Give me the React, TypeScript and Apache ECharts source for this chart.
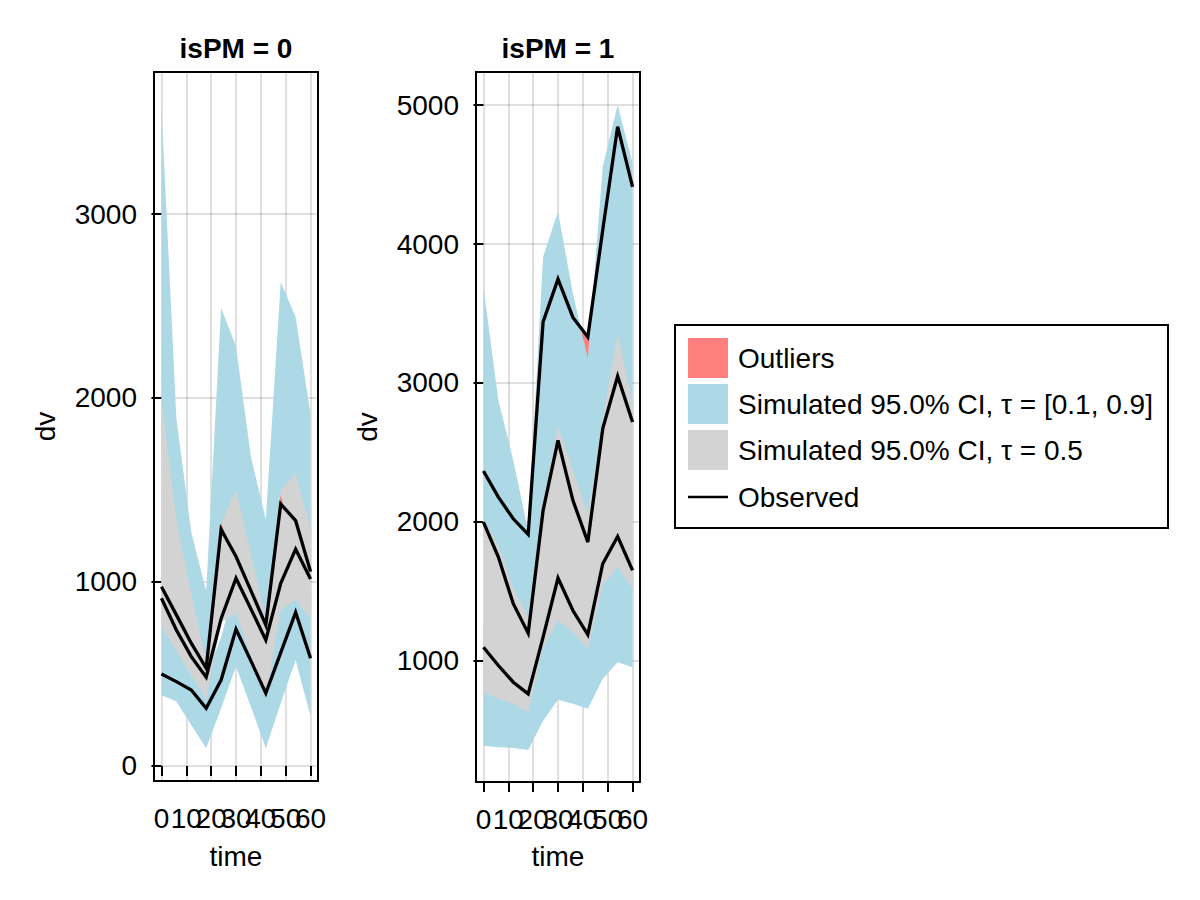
import React, { useEffect, useRef } from "react";
import * as echarts from "echarts";

// ---------------- data ----------------
const times = [0, 6, 12, 18, 24, 30, 36, 42, 48, 54, 60];
const xTickValues = [0, 10, 20, 30, 40, 50, 60];
const panelTitles = ["isPM = 0", "isPM = 1"];
const yTicksPM0 = [0, 1000, 2000, 3000];
const yTicksPM1 = [1000, 2000, 3000, 4000, 5000];

// isPM = 0 : simulated 95% CI of the 0.9 / 0.5 / 0.1 quantiles, observed quantiles
const pm0Ci90Lo = [900, 700, 560, 470, 1320, 1100, 900, 700, 1470, 1150, 1000];
const pm0Ci90Hi = [3580, 1890, 1270, 950, 2490, 2280, 1680, 1340, 2630, 2440, 1910];
const pm0Ci50Lo = [757, 625, 493, 359, 780, 830, 600, 359, 848, 902, 800];
const pm0Ci50Hi = [2000, 1330, 940, 560, 1320, 1500, 1150, 790, 1500, 1590, 1290];
const pm0Ci10Lo = [386, 350, 223, 96, 313, 540, 322, 96, 341, 576, 268];
const pm0Ci10Hi = [900, 760, 620, 480, 700, 1000, 750, 560, 980, 1050, 950];
const pm0Obs90 = [974, 821, 667, 531, 1286, 1138, 953, 766, 1424, 1333, 1056];
const pm0Obs50 = [911, 739, 594, 482, 800, 1020, 853, 685, 993, 1178, 1016];
const pm0Obs10 = [500, 458, 413, 313, 467, 743, 571, 395, 616, 835, 585];

// isPM = 1
const pm1Ci90Lo = [1900, 1700, 1400, 1250, 2050, 2550, 2250, 1950, 2600, 3200, 2750];
const pm1Ci90Hi = [3691, 2875, 2442, 1930, 3908, 4232, 3644, 3175, 4557, 5002, 4581];
const pm1Ci50Lo = [771, 724, 688, 628, 1096, 1288, 1204, 1084, 1541, 1673, 1520];
const pm1Ci50Hi = [2010, 1830, 1520, 1310, 2150, 2682, 2370, 2057, 2740, 3355, 2850];
const pm1Ci10Lo = [387, 375, 370, 356, 567, 717, 688, 652, 868, 988, 952];
const pm1Ci10Hi = [1250, 1100, 980, 900, 1350, 1750, 1500, 1350, 1850, 2050, 1800];
const pm1Obs90 = [2365, 2177, 2021, 1908, 3439, 3747, 3471, 3331, 4100, 4845, 4412];
const pm1Obs50 = [1997, 1745, 1409, 1197, 2081, 2586, 2154, 1853, 2670, 3048, 2718];
const pm1Obs10 = [1096, 964, 844, 760, 1168, 1594, 1360, 1187, 1697, 1894, 1649];

const legendLabels = [
  "Outliers",
  "Simulated 95.0% CI, \u03c4 = [0.1, 0.9]",
  "Simulated 95.0% CI, \u03c4 = 0.5",
  "Observed",
];

// ---------------- style ----------------
const FONT = "'Liberation Sans', Arial, Helvetica, sans-serif";
const FS = 28;
const BLUE = "#ADD8E6";
const GRAY = "#D3D3D3";
const RED = "rgba(255,0,0,0.5)";
const GRID_COLOR = "rgba(0,0,0,0.12)";
const LINE_W = 3.3;
const X_MIN = -3;
const X_MAX = 63;

const panels = [
  {
    grid: { left: 154, top: 72, width: 164, height: 709 },
    yMin: -82, yMax: 3772, yTicks: yTicksPM0,
    ci90Lo: pm0Ci90Lo, ci90Hi: pm0Ci90Hi, ci50Lo: pm0Ci50Lo, ci50Hi: pm0Ci50Hi,
    ci10Lo: pm0Ci10Lo, ci10Hi: pm0Ci10Hi, obs90: pm0Obs90, obs50: pm0Obs50, obs10: pm0Obs10,
  },
  {
    grid: { left: 476, top: 72, width: 164, height: 710 },
    yMin: 125, yMax: 5239, yTicks: yTicksPM1,
    ci90Lo: pm1Ci90Lo, ci90Hi: pm1Ci90Hi, ci50Lo: pm1Ci50Lo, ci50Hi: pm1Ci50Hi,
    ci10Lo: pm1Ci10Lo, ci10Hi: pm1Ci10Hi, obs90: pm1Obs90, obs50: pm1Obs50, obs10: pm1Obs10,
  },
];

// region between observed line and a CI bound where the observation lies outside;
// crossing points are inserted so the shape follows both lines exactly
function outlierBand(obs: number[], bound: number[], above: boolean) {
  const xs: number[] = [];
  const lo: number[] = [];
  const hi: number[] = [];
  let any = false;
  const dist = (i: number) => (above ? obs[i] - bound[i] : bound[i] - obs[i]);
  for (let i = 0; i < times.length; i++) {
    const d = dist(i);
    xs.push(times[i]);
    if (d > 0) {
      any = true;
      lo.push(Math.min(obs[i], bound[i]));
      hi.push(Math.max(obs[i], bound[i]));
    } else {
      lo.push(obs[i]);
      hi.push(obs[i]);
    }
    if (i < times.length - 1) {
      const d2 = dist(i + 1);
      if ((d > 0 && d2 < 0) || (d < 0 && d2 > 0)) {
        const f = d / (d - d2);
        const t = times[i] + f * (times[i + 1] - times[i]);
        const v = obs[i] + f * (obs[i + 1] - obs[i]);
        xs.push(t);
        lo.push(v);
        hi.push(v);
      }
    }
  }
  return any ? { xs, lo, hi } : null;
}

function bandSeries(axisIdx: number, xs: number[], lo: number[], hi: number[], color: string, z: number) {
  return {
    type: "custom",
    xAxisIndex: axisIdx,
    yAxisIndex: axisIdx / 2,
    z,
    silent: true,
    data: xs.map((t, i) => [t, lo[i], hi[i]]),
    encode: { x: 0, y: [1, 2] },
    renderItem: (params: any, api: any) => {
      if (params.dataIndex !== 0) return null;
      const upper = xs.map((t, i) => api.coord([t, hi[i]]));
      const lower = xs.map((t, i) => api.coord([t, lo[i]])).reverse();
      return {
        type: "polygon",
        shape: { points: upper.concat(lower) },
        style: { fill: color, stroke: null },
      };
    },
  };
}

function lineSeries(axisIdx: number, obs: number[]) {
  return {
    type: "line",
    xAxisIndex: axisIdx,
    yAxisIndex: axisIdx / 2,
    z: 10,
    silent: true,
    symbol: "none",
    showSymbol: false,
    data: times.map((t, i) => [t, obs[i]]),
    lineStyle: { color: "#000", width: LINE_W, join: "miter" },
  };
}

const plainNumber = (v: number) => String(v);
const evenTicks = xTickValues.filter((_, i) => i % 2 === 0);
const oddTicks = xTickValues.filter((_, i) => i % 2 === 1);

function buildOption() {
  const grids: any[] = [];
  const xAxes: any[] = [];
  const yAxes: any[] = [];
  const series: any[] = [];
  const graphic: any[] = [];

  panels.forEach((p, gi) => {
    grids.push({
      ...p.grid,
      show: true,
      borderColor: "#000",
      borderWidth: 2,
      backgroundColor: "transparent",
      containLabel: false,
    });
    const labelStyle = {
      formatter: plainNumber,
      color: "#000", fontSize: FS, fontFamily: FONT, margin: 23,
      hideOverlap: false, showMinLabel: true, showMaxLabel: true,
    };
    // main x axis: all ticks + grid lines, labels 0, 20, 40, 60
    xAxes.push({
      type: "value",
      gridIndex: gi,
      position: "bottom",
      offset: 0,
      min: X_MIN,
      max: X_MAX,
      axisLine: { show: false },
      axisTick: {
        show: true, length: 10, inside: false,
        lineStyle: { color: "#000", width: 2 },
        customValues: xTickValues,
      },
      axisLabel: { ...labelStyle, customValues: evenTicks },
      splitLine: { show: true, lineStyle: { color: GRID_COLOR, width: 2 } },
    });
    // companion x axis at the same place: labels 10, 30, 50 (they overlap in the original)
    xAxes.push({
      type: "value",
      gridIndex: gi,
      position: "bottom",
      offset: 0,
      min: X_MIN,
      max: X_MAX,
      axisLine: { show: false },
      axisTick: { show: false },
      axisLabel: { ...labelStyle, customValues: oddTicks },
      splitLine: { show: false },
    });
    yAxes.push({
      type: "value",
      gridIndex: gi,
      min: p.yMin,
      max: p.yMax,
      axisLine: { show: false },
      axisTick: {
        show: true, length: 10, inside: false,
        lineStyle: { color: "#000", width: 2 },
        customValues: p.yTicks,
      },
      axisLabel: {
        customValues: p.yTicks,
        formatter: plainNumber,
        color: "#000", fontSize: FS, fontFamily: FONT, margin: 17,
        showMinLabel: true, showMaxLabel: true,
      },
      splitLine: { show: true, lineStyle: { color: GRID_COLOR, width: 2 } },
    });

    const ax = gi * 2;
    series.push(bandSeries(ax, times, p.ci90Lo, p.ci90Hi, BLUE, 2));
    series.push(bandSeries(ax, times, p.ci10Lo, p.ci10Hi, BLUE, 2));
    series.push(bandSeries(ax, times, p.ci50Lo, p.ci50Hi, GRAY, 3));
    const outs = [
      outlierBand(p.obs90, p.ci90Lo, false), outlierBand(p.obs90, p.ci90Hi, true),
      outlierBand(p.obs50, p.ci50Lo, false), outlierBand(p.obs50, p.ci50Hi, true),
      outlierBand(p.obs10, p.ci10Lo, false), outlierBand(p.obs10, p.ci10Hi, true),
    ];
    outs.forEach((o) => {
      if (o) series.push(bandSeries(ax, o.xs, o.lo, o.hi, RED, 4));
    });
    series.push(lineSeries(ax, p.obs90));
    series.push(lineSeries(ax, p.obs50));
    series.push(lineSeries(ax, p.obs10));

    const cx = p.grid.left + p.grid.width / 2;
    const cy = p.grid.top + p.grid.height / 2;
    graphic.push({
      type: "text", x: cx, y: 48,
      style: { text: panelTitles[gi], fontSize: 28, fontWeight: "bold", fontFamily: FONT, fill: "#000", align: "center", verticalAlign: "middle" },
    });
    graphic.push({
      type: "text", x: cx, y: 856,
      style: { text: "time", fontSize: FS, fontFamily: FONT, fill: "#000", align: "center", verticalAlign: "middle" },
    });
    graphic.push({
      type: "text", x: p.grid.left - 109, y: cy, rotation: Math.PI / 2,
      style: { text: "dv", fontSize: FS, fontFamily: FONT, fill: "#000", align: "center", verticalAlign: "middle" },
    });
  });

  // legend
  const lx = 675, ly = 325;
  graphic.push({
    type: "rect", z: 100,
    shape: { x: lx, y: ly, width: 493, height: 203 },
    style: { fill: "#fff", stroke: "#000", lineWidth: 2 },
  });
  const swatchColors = [RED, BLUE, GRAY];
  const rowCenters = [358, 404, 450, 497];
  swatchColors.forEach((c, i) => {
    graphic.push({
      type: "rect", z: 101,
      shape: { x: 688, y: rowCenters[i] - 20, width: 40, height: 40 },
      style: { fill: c },
    });
  });
  graphic.push({
    type: "line", z: 101,
    shape: { x1: 688, y1: rowCenters[3], x2: 728, y2: rowCenters[3] },
    style: { stroke: "#000", lineWidth: 2.5 },
  });
  legendLabels.forEach((lab, i) => {
    graphic.push({
      type: "text", z: 101, x: 738, y: rowCenters[i],
      style: { text: lab, fontSize: FS, fontFamily: FONT, fill: "#000", align: "left", verticalAlign: "middle" },
    });
  });

  return {
    animation: false,
    backgroundColor: "#fff",
    textStyle: { fontFamily: FONT },
    grid: grids,
    xAxis: xAxes,
    yAxis: yAxes,
    series,
    graphic,
  };
}

export default function App() {
  const ref = useRef<HTMLDivElement>(null);
  useEffect(() => {
    document.body.style.margin = "0";
    if (!ref.current) return;
    const chart = echarts.init(ref.current, null, { renderer: "svg" });
    chart.setOption(buildOption() as any);
    return () => chart.dispose();
  }, []);
  return (
    <div
      ref={ref}
      style={{ position: "fixed", left: 0, top: 0, width: 1200, height: 900, background: "#fff" }}
    />
  );
}
